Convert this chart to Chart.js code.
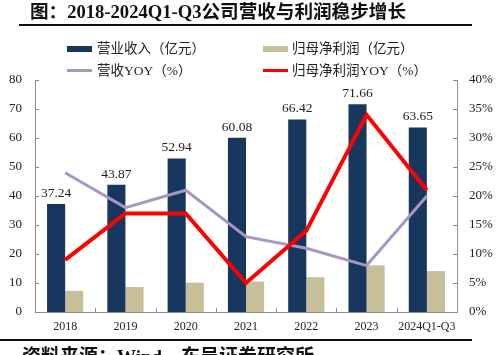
<!DOCTYPE html>
<html><head><meta charset="utf-8">
<script src="https://cdn.jsdelivr.net/npm/chart.js@4"></script>
<style>
html,body{margin:0;padding:0;width:501px;height:355px;overflow:hidden;background:#fff;}
#wrap{position:relative;width:501px;height:355px;}
canvas{position:absolute;left:0;top:0;}
.t{position:absolute;white-space:nowrap;font-family:"Liberation Serif","Noto Sans CJK SC",serif;color:#111;}
.lg{position:absolute;font-family:"Liberation Serif","Noto Sans CJK SC",serif;font-size:13.5px;color:#222;white-space:nowrap;}
.sw{position:absolute;}
</style></head><body>
<div id="wrap">
<canvas id="c" width="501" height="355"></canvas>
<div class="t" style="left:30px;top:0px;font-size:18.6px;font-weight:bold;line-height:24px;">图：2018-2024Q1-Q3公司营收与利润稳步增长</div>
<div style="position:absolute;left:19px;top:24px;width:453px;height:1.5px;background:#111;"></div>
<div class="sw" style="left:67px;top:46px;width:25px;height:6px;background:#17375e;"></div>
<div class="lg" style="left:97px;top:41px;line-height:16px;">营业收入（亿元）</div>
<div class="sw" style="left:263px;top:46px;width:25px;height:6px;background:#c6bf98;"></div>
<div class="lg" style="left:292px;top:41px;line-height:16px;">归母净利润（亿元）</div>
<div class="sw" style="left:67px;top:69px;width:25px;height:3px;background:#a897c2;"></div>
<div class="lg" style="left:97px;top:63px;line-height:16px;">营收YOY（%）</div>
<div class="sw" style="left:263px;top:69px;width:25px;height:3px;background:#ff0000;"></div>
<div class="lg" style="left:292px;top:63px;line-height:16px;">归母净利润YOY（%）</div>
<div style="position:absolute;left:0px;top:339px;width:472px;height:1.5px;background:#111;"></div>
<div class="t" style="left:22px;top:345px;font-size:19px;font-weight:bold;line-height:24px;">资料来源：Wind，东吴证券研究所</div>
</div>
<script>
const categories = ["2018","2019","2020","2021","2022","2023","2024Q1-Q3"];
const revenue = [37.24, 43.87, 52.94, 60.08, 66.42, 71.66, 63.65];
const netProfit = [7.3, 8.6, 10.1, 10.5, 12.0, 16.1, 14.1];
const revenueYoY = [24, 18, 21, 13, 11, 8, 20];
const profitYoY = [9, 17, 17, 5, 14, 34, 21];
const leftTicks = [0,10,20,30,40,50,60,70,80];
const rightTicks = [0,5,10,15,20,25,30,35,40];

const serif = '"Liberation Serif", "Times New Roman", serif';

const customAxes = {
  id: 'customAxes',
  afterDraw(chart) {
    const ctx = chart.ctx;
    const x = chart.scales.x, y = chart.scales.y, y1 = chart.scales.y1;
    const a = chart.chartArea;
    ctx.save();
    ctx.strokeStyle = '#8c8c8c';
    ctx.lineWidth = 1;
    ctx.beginPath();
    leftTicks.forEach(v => { const p = Math.round(y.getPixelForValue(v)) + 0.5; ctx.moveTo(a.left, p); ctx.lineTo(a.left + 4, p); });
    rightTicks.forEach(v => { const p = Math.round(y1.getPixelForValue(v)) + 0.5; ctx.moveTo(a.right, p); ctx.lineTo(a.right - 4, p); });
    for (let i = 1; i < categories.length; i++) {
      const p = Math.round((x.getPixelForValue(i - 1) + x.getPixelForValue(i)) / 2) + 0.5;
      ctx.moveTo(p, a.bottom); ctx.lineTo(p, a.bottom - 4);
    }
    ctx.stroke();
    const meta = chart.getDatasetMeta(0);
    ctx.fillStyle = '#222';
    ctx.font = '13.5px ' + serif;
    ctx.textAlign = 'center';
    ctx.textBaseline = 'bottom';
    meta.data.forEach((el, i) => {
      ctx.fillText(revenue[i].toFixed(2), el.x, el.y - 4);
    });
    ctx.restore();
  }
};

new Chart(document.getElementById('c'), {
  data: {
    labels: categories,
    datasets: [
      { type: 'bar', label: '营业收入（亿元）', data: revenue, backgroundColor: '#17375e', yAxisID: 'y', order: 3, categoryPercentage: 0.6, barPercentage: 1.0 },
      { type: 'bar', label: '归母净利润（亿元）', data: netProfit, backgroundColor: '#c6bf98', yAxisID: 'y', order: 3, categoryPercentage: 0.6, barPercentage: 1.0 },
      { type: 'line', label: '营收YOY（%）', data: revenueYoY, borderColor: '#a897c2', borderWidth: 3, pointRadius: 0, fill: false, tension: 0, yAxisID: 'y1', order: 1 },
      { type: 'line', label: '归母净利润YOY（%）', data: profitYoY, borderColor: '#ff0000', borderWidth: 4, pointRadius: 0, fill: false, tension: 0, yAxisID: 'y1', order: 0 }
    ]
  },
  options: {
    responsive: false,
    animation: false,
    devicePixelRatio: 1,
    layout: { padding: { top: 80, left: 0, right: 0, bottom: 0 } },
    plugins: { legend: { display: false }, tooltip: { enabled: false } },
    scales: {
      x: {
        grid: { display: false, drawTicks: false },
        border: { display: true, color: '#8c8c8c', width: 1 },
        ticks: { font: { family: serif, size: 12 }, color: '#222', padding: 8, maxRotation: 0, autoSkip: false },
        afterFit(s) { s.height = 43; }
      },
      y: {
        position: 'left', min: 0, max: 80,
        grid: { display: false, drawTicks: false },
        border: { display: true, color: '#8c8c8c', width: 1 },
        ticks: { stepSize: 10, font: { family: serif, size: 13 }, color: '#222', padding: 13 },
        afterFit(s) { s.width = 35; }
      },
      y1: {
        position: 'right', min: 0, max: 40,
        grid: { display: false, drawTicks: false },
        border: { display: true, color: '#8c8c8c', width: 1 },
        ticks: { stepSize: 5, font: { family: serif, size: 13 }, color: '#222', padding: 12, callback: v => v + '%' },
        afterFit(s) { s.width = 44; }
      }
    }
  },
  plugins: [customAxes]
});
</script>
</body></html>
